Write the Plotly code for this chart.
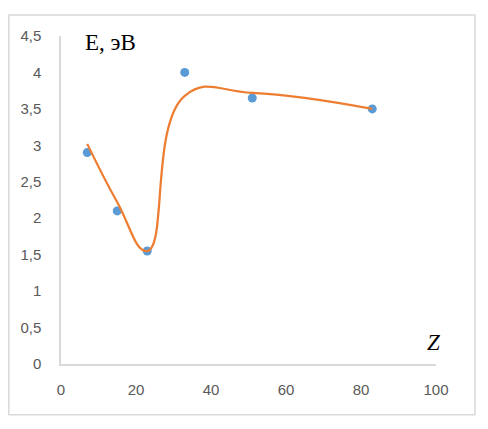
import plotly.graph_objects as go

# atomic number Z and energy E (eV)
z_values = [7, 15, 23, 33, 51, 83]
e_measured = [2.9, 2.1, 1.55, 4.0, 3.65, 3.5]
e_curve = [3.02, 2.22, 1.55, 3.68, 3.72, 3.50]

x_ticks = [0, 20, 40, 60, 80, 100]
y_ticks = [0, 0.5, 1, 1.5, 2, 2.5, 3, 3.5, 4, 4.5]

fig = go.Figure()
fig.add_trace(go.Scatter(
    x=z_values, y=e_measured, mode="markers",
    marker=dict(color="#5b9bd5", size=9),
))
fig.add_trace(go.Scatter(
    x=z_values, y=e_curve, mode="lines",
    line=dict(color="#ed7d31", width=2.25, shape="spline", smoothing=1.3),
))

axis_font = dict(family="Liberation Sans, Arial", size=15, color="#595959")

# the page puts the plot 8px in from the corner, so the figure is 8px smaller
fig.update_layout(
    width=480, height=421,
    margin=dict(l=53, r=52, t=28, b=65),
    paper_bgcolor="white", plot_bgcolor="white",
    showlegend=False,
    separators=", ",
    xaxis=dict(
        range=[0, 100], tickvals=x_ticks, showgrid=False, zeroline=False,
        showline=True, linecolor="#d9d9d9", linewidth=1.5,
        ticks="", tickfont=axis_font, ticklabelstandoff=11, automargin=False,
    ),
    yaxis=dict(
        range=[0, 4.5], tickvals=y_ticks, showgrid=False, zeroline=False,
        showline=True, linecolor="#d9d9d9", linewidth=1.5,
        ticks="", tickfont=axis_font, ticklabelstandoff=15, automargin=False,
    ),
    shapes=[dict(
        type="rect", xref="paper", yref="paper",
        x0=-0.139, x1=1.104, y0=-0.155, y1=1.064,
        line=dict(color="#d9d9d9", width=1.5), fillcolor="rgba(0,0,0,0)",
        layer="below",
    )],
    annotations=[
        dict(text="E, эВ", xref="paper", yref="paper", x=0.058, y=0.979,
             xanchor="left", yanchor="middle", showarrow=False,
             font=dict(family="Liberation Serif, Times New Roman", size=23, color="black")),
        dict(text="<i>Z</i>", xref="paper", yref="paper", x=0.992, y=0.067,
             xanchor="center", yanchor="middle", showarrow=False,
             font=dict(family="Liberation Serif, Times New Roman", size=23, color="black")),
    ],
)

fig.write_html("out.html")
